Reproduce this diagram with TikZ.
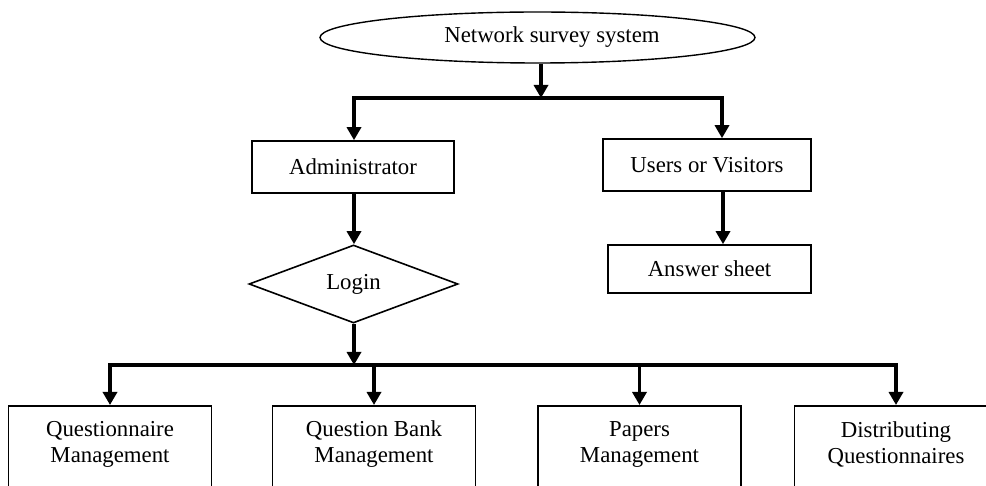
\documentclass[tikz,border=0pt]{standalone}
\usepackage{fontspec}
\setmainfont{Liberation Serif}
\usetikzlibrary{shapes.geometric,arrows.meta}
\begin{document}
\begin{tikzpicture}[x=1pt,y=-1pt,
  every node/.style={font=\fontsize{22.8pt}{26pt}\selectfont, inner sep=0pt},
  box/.style={draw, rectangle, line width=1.6pt},
  tip/.style={Triangle[length=13pt,width=14pt]},
  conn/.style={line width=3.8pt, line join=miter, -{Triangle[length=13pt,width=14pt]}},
  dconn/.style={line width=3.8pt, line join=miter, {Triangle[length=13pt,width=14pt]}-{Triangle[length=13pt,width=14pt]}},
  lowbox/.style={box, minimum width=203pt, minimum height=120pt, anchor=north},
  lowtext/.style={align=center}]
\useasboundingbox (0,0) rectangle (986,486);
\clip (0,0) rectangle (986,486);
\fill[white] (0,0) rectangle (986,486);

% nodes
\node[draw, ellipse, line width=1.4pt, minimum width=435pt, minimum height=51pt] (sys) at (537.5,37.5) {\hspace*{29pt}Network survey system};
\node[box, minimum width=202pt, minimum height=52pt] (adm) at (353,167) {Administrator};
\node[box, minimum width=208pt, minimum height=52pt] (usr) at (707,165) {Users or Visitors};
\node[draw, diamond, line width=1.6pt, minimum width=209pt, minimum height=78pt] (login) at (353.5,284) {Login};
\node[box, minimum width=203pt, minimum height=48pt] (ans) at (709.5,269) {Answer sheet};

\node[lowbox] (qm) at (110,405) {};
\node[lowtext] (qmt) at (110,444) {Questionnaire\\Management};
\node[lowbox] (qb) at (374,405) {};
\node[lowtext] (qbt) at (374,444) {Question Bank\\Management};
\node[lowbox] (pm) at (639.5,405) {};
\node[lowtext] (pmt) at (639.5,444) {Papers\\Management};
\node[lowbox] (dq) at (896,405) {};
\node[lowtext] (dqt) at (896,444) {Distributing\\Questionnaires};

% junctions
\coordinate (j1) at (541,98);
\coordinate (jl) at (354,98);
\coordinate (jr) at (722,98);
\coordinate (j2) at (354,365);
\coordinate (ua) at ([xshift=16pt]usr.south);

% connectors
\draw[conn] (sys.south -| j1) -- (j1);
\draw[dconn] (jl |- adm.north) -- (jl) -- (jr) -- (jr |- usr.north);
\draw[conn] (j2 |- adm.south) -- (j2 |- login.north);
\draw[conn] (ua) -- (ua |- ans.north);
\draw[conn] (j2 |- login.south) -- (j2);
\draw[dconn] (qm.north) -- (qm.north |- j2) -- (dq.north |- j2) -- (dq.north);
\draw[conn] (j2 -| qb.north) -- (qb.north);
\draw[conn] (j2 -| pm.north) -- (pm.north);
\end{tikzpicture}
\end{document}
